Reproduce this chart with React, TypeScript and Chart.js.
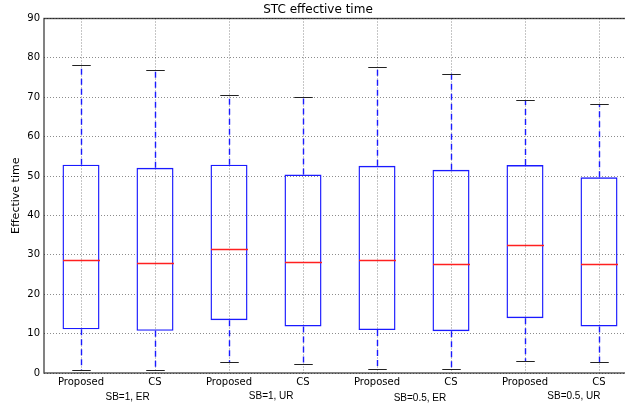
import React, { useEffect, useRef } from "react";
import { Chart, registerables } from "chart.js";

Chart.register(...registerables);

// ---- data ----
const categories = ["Proposed", "CS", "Proposed", "CS", "Proposed", "CS", "Proposed", "CS"];
const whiskerLow = [0.8, 0.8, 2.7, 2.4, 0.9, 0.9, 3.0, 2.7];
const q1 = [11.1, 10.7, 13.4, 11.8, 10.9, 10.6, 13.9, 11.8];
const medians = [28.7, 27.9, 31.6, 28.1, 28.6, 27.6, 32.4, 27.6];
const q3 = [52.9, 52.1, 52.9, 50.4, 52.6, 51.6, 52.8, 49.7];
const whiskerHigh = [78.1, 76.8, 70.6, 70.1, 77.8, 76.0, 69.3, 68.3];
const groupLabels = ["SB=1, ER", "SB=1, UR", "SB=0.5, ER", "SB=0.5, UR"];
const yMin = 0;
const yMax = 90;
const yStep = 10;

// ---- style / placement ----
const groupLabelX = [0.63, 2.57, 4.58, 6.66];
const groupLabelDy = [24.5, 23.3, 25.5, 23.3];
const BLUE = "#1a1aff";
const RED = "#ff2020";
const FONT = "'DejaVu Sans', sans-serif";

const boxPlugin = {
  id: "boxExtras",
  afterDatasetsDraw(chart: any) {
    const { ctx, chartArea } = chart;
    const xs = chart.scales.x;
    const ys = chart.scales.y;
    const step = xs.getPixelForValue(1) - xs.getPixelForValue(0);
    const boxHalf = step * 0.25;
    const capHalf = step * 0.125;
    ctx.save();
    ctx.beginPath();
    ctx.rect(chartArea.left, chartArea.top, chartArea.right - chartArea.left, chartArea.bottom - chartArea.top);
    ctx.clip();
    for (let i = 0; i < categories.length; i++) {
      const x = Math.round(xs.getPixelForValue(i)) + 0.5;
      // whiskers
      ctx.strokeStyle = BLUE;
      ctx.lineWidth = 1.4;
      ctx.setLineDash([6, 4]);
      ctx.beginPath();
      ctx.moveTo(x, ys.getPixelForValue(q3[i]));
      ctx.lineTo(x, ys.getPixelForValue(whiskerHigh[i]));
      ctx.moveTo(x, ys.getPixelForValue(q1[i]));
      ctx.lineTo(x, ys.getPixelForValue(whiskerLow[i]));
      ctx.stroke();
      ctx.setLineDash([]);
      // caps
      ctx.strokeStyle = "#222";
      ctx.lineWidth = 1.2;
      ctx.beginPath();
      const yh = Math.round(ys.getPixelForValue(whiskerHigh[i])) + 0.5;
      const yl = Math.round(ys.getPixelForValue(whiskerLow[i])) + 0.5;
      ctx.moveTo(x - capHalf, yh);
      ctx.lineTo(x + capHalf, yh);
      ctx.moveTo(x - capHalf, yl);
      ctx.lineTo(x + capHalf, yl);
      ctx.stroke();
      // median
      ctx.strokeStyle = RED;
      ctx.lineWidth = 1.4;
      ctx.beginPath();
      const ym = Math.round(ys.getPixelForValue(medians[i])) + 0.5;
      ctx.moveTo(x - boxHalf, ym);
      ctx.lineTo(x + boxHalf, ym);
      ctx.stroke();
    }
    ctx.restore();
  },
  afterDraw(chart: any) {
    const { ctx, chartArea } = chart;
    const xs = chart.scales.x;
    ctx.save();
    // frame
    ctx.strokeStyle = "rgba(0,0,0,0.7)";
    ctx.lineWidth = 1.4;
    ctx.setLineDash([]);
    ctx.strokeRect(chartArea.left, chartArea.top, chartArea.right - chartArea.left, chartArea.bottom - chartArea.top);
    // group labels
    ctx.fillStyle = "#000";
    ctx.font = "10px 'Liberation Sans', Arial, sans-serif";
    ctx.textAlign = "center";
    ctx.textBaseline = "middle";
    groupLabels.forEach((lbl, i) => {
      ctx.fillText(lbl, xs.getPixelForValue(groupLabelX[i]), chartArea.bottom + groupLabelDy[i]);
    });
    ctx.restore();
  },
};

export default function App() {
  const ref = useRef<HTMLCanvasElement | null>(null);
  useEffect(() => {
    document.body.style.margin = "0";
    if (!ref.current) return;
    const chart = new Chart(ref.current, {
      type: "bar",
      data: {
        labels: categories,
        datasets: [
          {
            data: categories.map((_, i) => [q1[i], q3[i]]) as any,
            backgroundColor: "rgba(0,0,0,0)",
            borderColor: BLUE,
            borderWidth: 1.4,
            borderSkipped: false,
            barPercentage: 0.5,
            categoryPercentage: 1,
          },
        ],
      },
      options: {
        animation: false,
        responsive: false,
        devicePixelRatio: 1,
        layout: { padding: { left: 0, right: 44, top: 0, bottom: 0 } },
        plugins: {
          legend: { display: false },
          tooltip: { enabled: false },
          title: {
            display: true,
            text: "STC effective time",
            color: "#000",
            font: { family: FONT, size: 12, weight: "normal" },
            padding: { top: 2.5, bottom: 1.6 },
          },
        },
        scales: {
          x: {
            type: "category",
            grid: {
              offset: false,
              drawTicks: false,
              color: "rgba(0,0,0,0.45)",
              lineWidth: 1,
            },
            border: { display: false, dash: [1, 2] },
            ticks: {
              color: "#000",
              font: { family: FONT, size: 10 },
              padding: 3,
              maxRotation: 0,
              autoSkip: false,
            },
            afterFit: (s: any) => {
              s.height = 32;
            },
          },
          y: {
            min: yMin,
            max: yMax,
            grid: {
              drawTicks: false,
              color: "rgba(0,0,0,0.45)",
              lineWidth: 1,
            },
            border: { display: false, dash: [1, 2] },
            ticks: {
              stepSize: yStep,
              color: "#000",
              font: { family: FONT, size: 10 },
              padding: 4,
            },
            title: {
              display: true,
              text: "Effective time",
              color: "#000",
              font: { family: FONT, size: 11 },
              padding: { top: 10, bottom: 0 },
            },
            afterFit: (s: any) => {
              s.width = 44;
            },
          },
        },
      },
      plugins: [boxPlugin],
    });
    return () => chart.destroy();
  }, []);
  return (
    <div style={{ width: 625, height: 405, overflow: "hidden" }}>
      <canvas ref={ref} width={680} height={405} style={{ display: "block" }} />
    </div>
  );
}
